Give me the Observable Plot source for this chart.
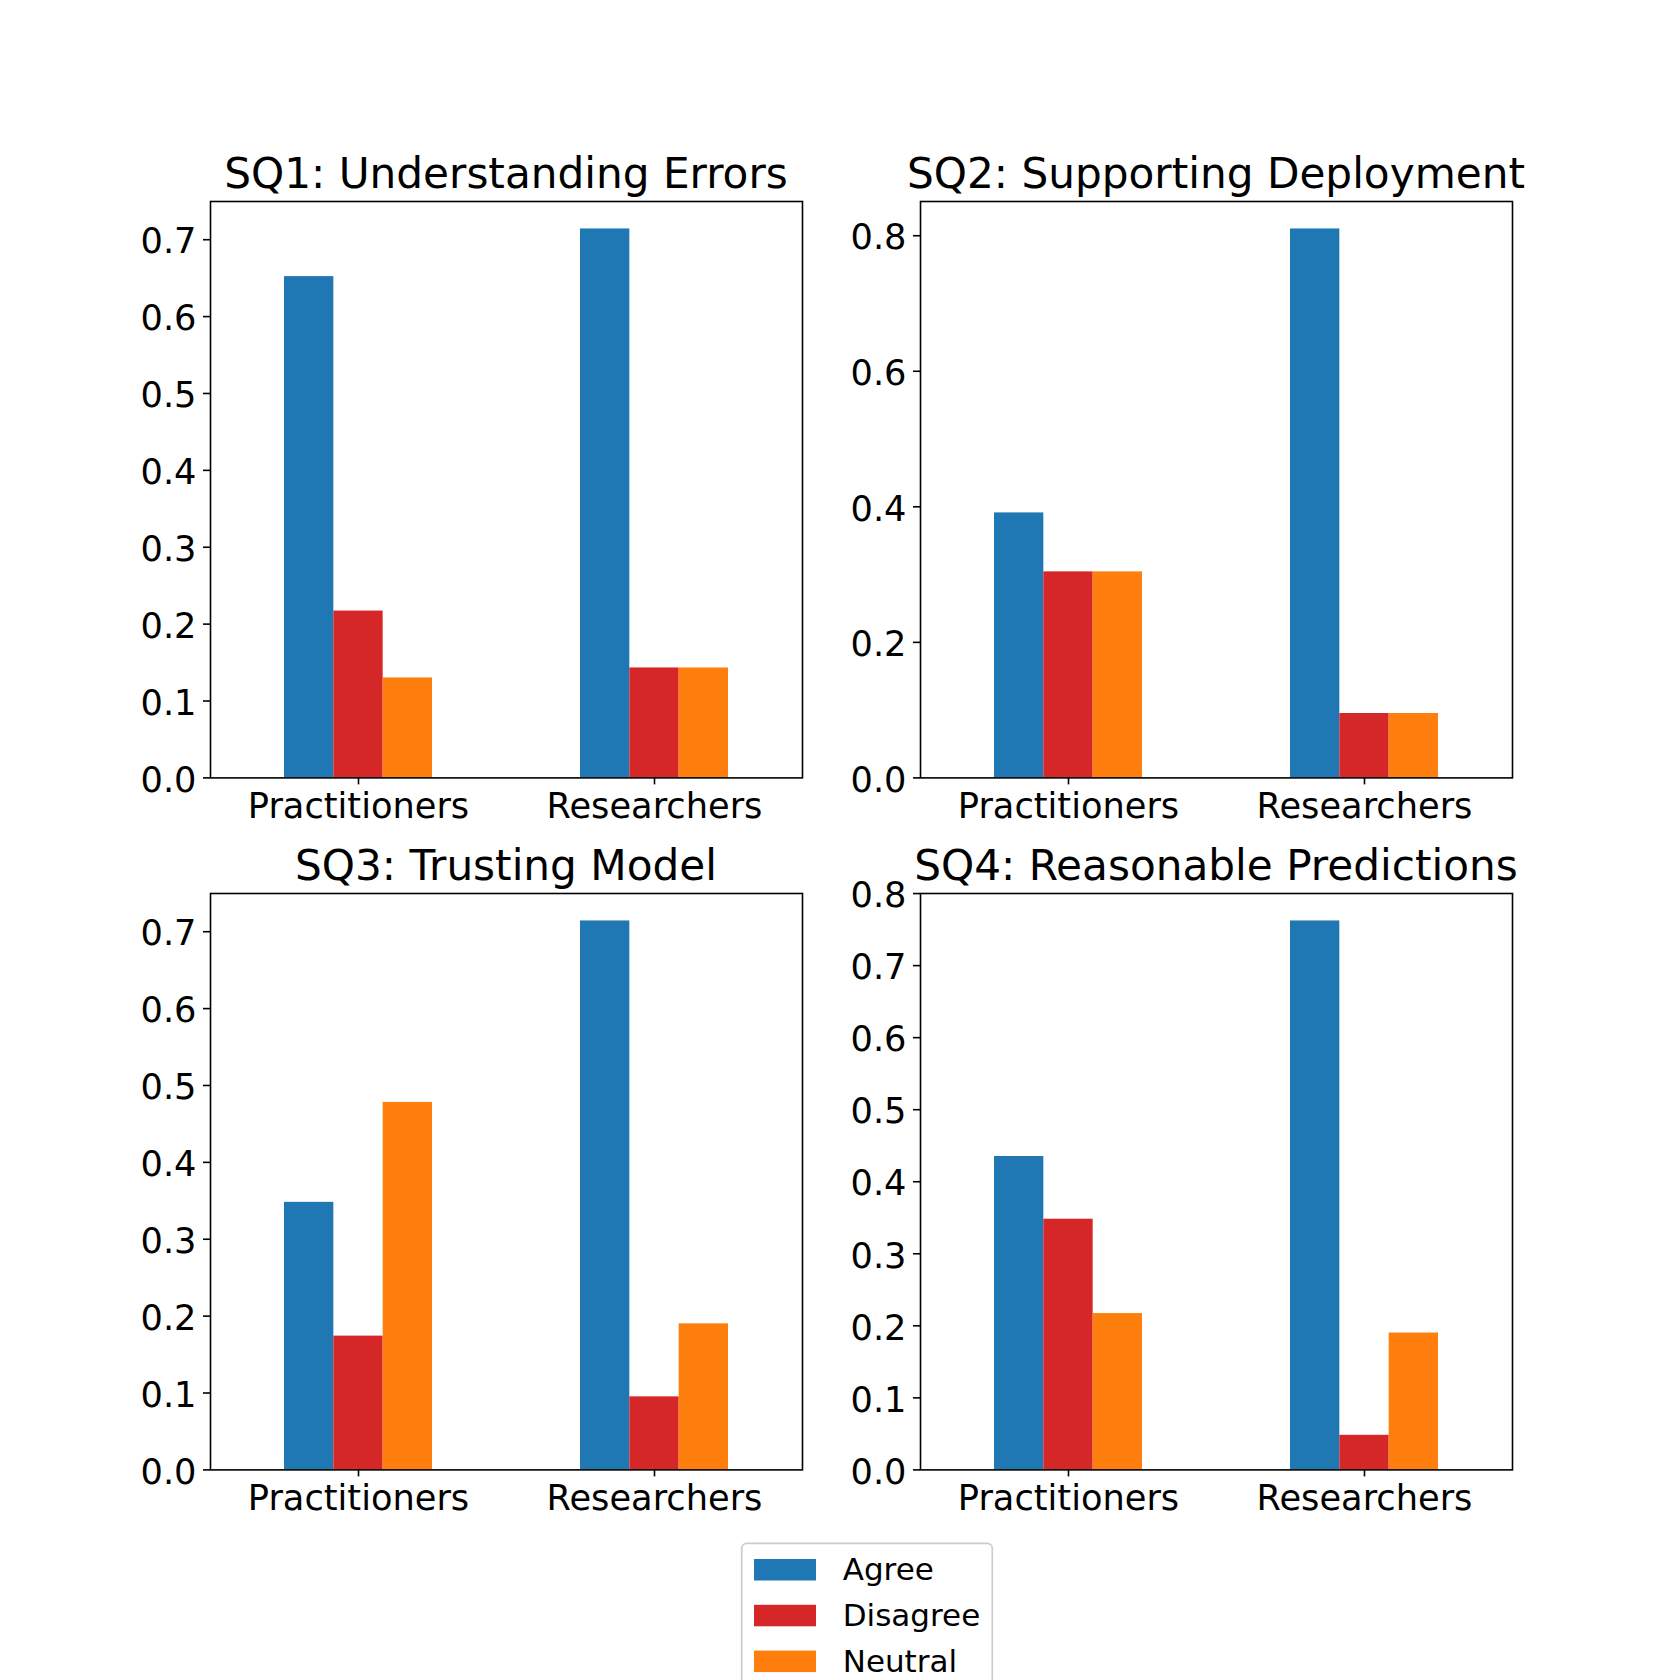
<!DOCTYPE html>
<html><head><meta charset="utf-8">
<script src="https://cdn.jsdelivr.net/npm/d3@7"></script>
<script src="https://cdn.jsdelivr.net/npm/@observablehq/plot@0.6"></script>
<style>
html,body{margin:0;padding:0;background:#fff;}
#page{position:relative;width:1680px;height:1680px;overflow:hidden;background:#fff;font-family:"DejaVu Sans";}
#page svg{position:absolute;overflow:visible;}
</style></head><body><div id="page"></div>
<script>
const questions = ["SQ1: Understanding Errors", "SQ2: Supporting Deployment", "SQ3: Trusting Model", "SQ4: Reasonable Predictions"];
const groups = ["Practitioners", "Researchers"];
const responses = ["Agree", "Disagree", "Neutral"];
const colors = ["#1f77b4", "#d62728", "#ff7f0e"];
// [question][group]
const agreeValues    = [[0.652, 0.714], [0.391, 0.810], [0.348, 0.714], [0.435, 0.762]];
const disagreeValues = [[0.217, 0.143], [0.304, 0.095], [0.174, 0.095], [0.348, 0.048]];
const neutralValues  = [[0.130, 0.143], [0.304, 0.095], [0.478, 0.190], [0.217, 0.190]];
const yTicks = [
  [0.0, 0.1, 0.2, 0.3, 0.4, 0.5, 0.6, 0.7],
  [0.0, 0.2, 0.4, 0.6, 0.8],
  [0.0, 0.1, 0.2, 0.3, 0.4, 0.5, 0.6, 0.7],
  [0.0, 0.1, 0.2, 0.3, 0.4, 0.5, 0.6, 0.7, 0.8]
];

const page = document.getElementById("page");
const AX_W = 592, AX_H = 576.4;
const axLeft = [210, 920], axTop = [201.3, 893.3];
const M = {top: 60, right: 40, bottom: 70, left: 100};
const seriesValues = [agreeValues, disagreeValues, neutralValues];
const TICK_FS = 35.2;

questions.forEach((q, qi) => {
  const col = qi % 2, row = Math.floor(qi / 2);
  const rows = [];
  groups.forEach((g, gi) => responses.forEach((r, ri) => {
    rows.push({group: g, gi, response: r, ri, value: seriesValues[ri][qi][gi]});
  }));
  const barW = 0.5 / responses.length;
  const yMax = d3.max(rows, d => d.value) * 1.05;
  const plot = Plot.plot({
    width: AX_W + M.left + M.right,
    height: AX_H + M.top + M.bottom,
    marginTop: M.top, marginRight: M.right, marginBottom: M.bottom, marginLeft: M.left,
    style: {fontFamily: "DejaVu Sans", fontSize: TICK_FS + "px", color: "#000", background: "transparent", overflow: "visible"},
    x: {domain: [-0.5, 1.5], axis: null},
    y: {domain: [0, yMax], axis: null},
    color: {domain: responses, range: colors},
    marks: [
      Plot.rect(rows, {x1: d => d.gi - 0.25 + d.ri * barW, x2: d => d.gi - 0.25 + (d.ri + 1) * barW, y1: 0, y2: "value", fill: "response"}),
      Plot.axisY({ticks: yTicks[qi], tickSize: 7, tickFormat: () => "", label: null, strokeWidth: 1.6}),
      Plot.axisY({ticks: yTicks[qi], tickSize: 0, tickPadding: 14, tickFormat: d3.format(".1f"), label: null, fontSize: TICK_FS, dy: 2.5}),
      Plot.axisX({ticks: [0, 1], tickFormat: i => groups[i], tickSize: 7, tickPadding: 8, label: null, strokeWidth: 1.6, fontSize: TICK_FS}),
      Plot.frame({stroke: "#000", strokeWidth: 1.6})
    ]
  });
  d3.select(plot).append("text")
    .attr("x", M.left + AX_W / 2).attr("y", M.top - 12.5)
    .attr("text-anchor", "middle").attr("font-size", 42.2).attr("fill", "#000")
    .attr("font-family", "DejaVu Sans")
    .text(q);
  plot.style.left = (axLeft[col] - M.left) + "px";
  plot.style.top = (axTop[row] - M.top) + "px";
  page.appendChild(plot);
});

// legend
const lg = d3.select(page).append("svg")
  .attr("width", 260).attr("height", 180)
  .style("left", "740px").style("top", "1542px");
lg.append("rect").attr("x", 1.7).attr("y", 1.3).attr("width", 250.6).attr("height", 170)
  .attr("rx", 5).attr("fill", "#fff").attr("fill-opacity", 0.8)
  .attr("stroke", "#cccccc").attr("stroke-width", 1.7);
responses.forEach((r, i) => {
  lg.append("rect").attr("x", 14).attr("y", 17 + i * 45.8).attr("width", 62).attr("height", 21.5).attr("fill", colors[i]);
  lg.append("text").attr("x", 102.7).attr("y", 38 + i * 45.8)
    .attr("font-family", "DejaVu Sans").attr("font-size", 31).attr("fill", "#000").text(r);
});
</script></body></html>
